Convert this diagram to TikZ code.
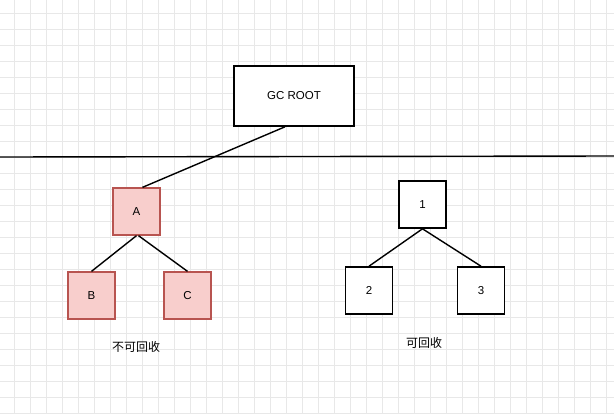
\documentclass[tikz,border=0pt]{standalone}
\usepackage{fontspec}
\setmainfont{Liberation Sans}
\newfontfamily\cjk{Noto Sans CJK SC}
\begin{document}
\begin{tikzpicture}[x=1pt,y=-1pt,
  box/.style={draw=black,line width=1.6pt,fill=white,inner sep=0pt,font=\fontsize{11.5}{13}\selectfont},
  pinkbox/.style={draw=pinkline,line width=1.3pt,fill=pinkfill,inner sep=0pt,minimum width=47pt,minimum height=47pt,font=\fontsize{11.5}{13}\selectfont},
  sq/.style={box,minimum width=47pt,minimum height=47pt},
  edge/.style={line width=1.4pt,black},
  lbl/.style={font=\cjk\fontsize{12}{14}\selectfont,inner sep=0pt}]
\definecolor{pinkfill}{HTML}{F8CECC}
\definecolor{pinkline}{HTML}{B85450}
\definecolor{gridc}{HTML}{E8E8E8}
\useasboundingbox (0,0) rectangle (614,413);
\fill[white] (0,0) rectangle (614,413);
\foreach \i in {0,...,38} {\draw[gridc,line width=0.8pt] ({14+16*\i},0) -- ({14+16*\i},413);}
\foreach \j in {0,...,25} {\draw[gridc,line width=0.8pt] (0,{13+16*\j}) -- (614,{13+16*\j});}
\coordinate (L) at (0,157);
\coordinate (R) at (614,156);
\draw[edge] (L) -- (R);
\node[box,minimum width=120pt,minimum height=60pt] (gc) at (294,96) {GC ROOT};
\node[pinkbox] (a) at (136.5,211.5) {A};
\node[pinkbox] (b) at (91.5,295.5) {B};
\node[pinkbox] (c) at (187.5,295.5) {C};
\node[sq] (n1) at (422.5,204.5) {1};
\node[sq] (n2) at (369,290.5) {2};
\node[sq] (n3) at (481,290.5) {3};
\draw[edge] ([xshift=-9pt]gc.south) -- ([xshift=6pt]a.north);
\draw[edge] (a.south) -- (b.north);
\draw[edge] ([xshift=2pt]a.south) -- (c.north);
\draw[edge] (n1.south) -- (n2.north);
\draw[edge] (n1.south) -- (n3.north);
\node[lbl] (t1) at (136,347) {不可回收};
\node[lbl] (t2) at (424,343) {可回收};
\end{tikzpicture}
\end{document}
